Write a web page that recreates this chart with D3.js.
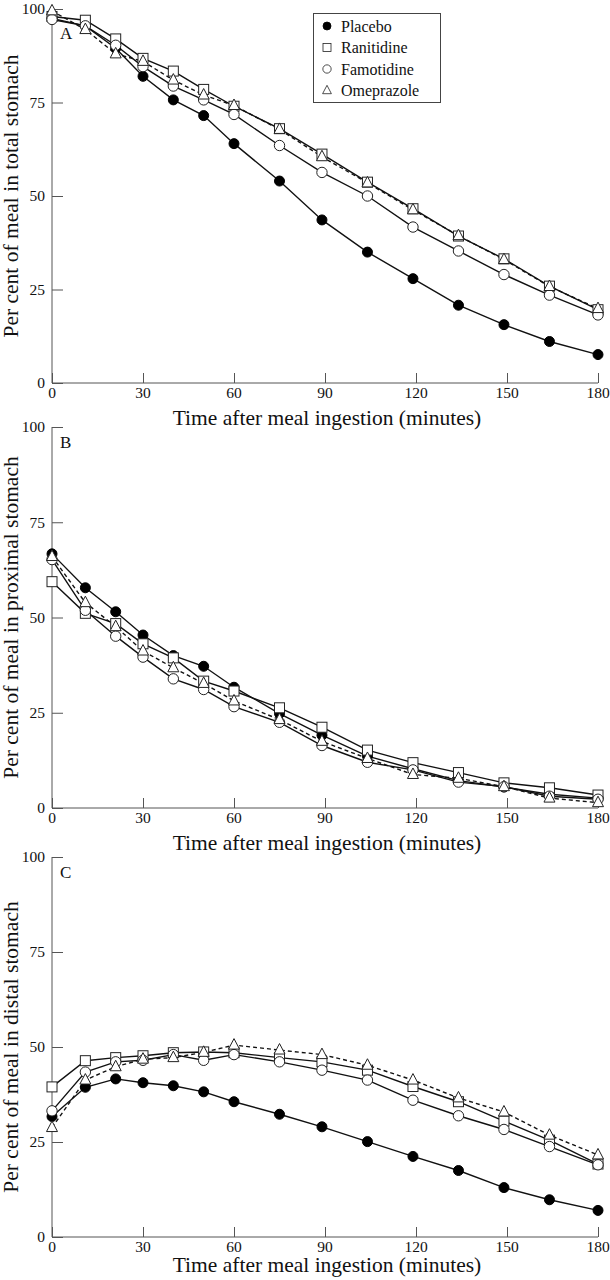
<!DOCTYPE html>
<html>
<head>
<meta charset="utf-8">
<script src="https://cdn.jsdelivr.net/npm/d3@7"></script>
<style>
    body { margin: 0; background: #fff; }
    svg text { font-family: "Liberation Serif", "DejaVu Serif", serif; fill: #111; }
</style>
</head>
<body>
<script>
// time points (minutes)
var times = [0, 11, 21, 30, 40, 50, 60, 75, 89, 104, 119, 134, 149, 164, 180];
var xTicks = [0, 30, 60, 90, 120, 150, 180];
var yTicks = [0, 25, 50, 75, 100];
var seriesNames = ["Placebo", "Ranitidine", "Famotidine", "Omeprazole"];
var panelLetters = ["A", "B", "C"];
var yTitles = ["Per cent of meal in total stomach", "Per cent of meal in proximal stomach", "Per cent of meal in distal stomach"];

// panel A - total stomach
var totalPlacebo = [97.5, 95.5, 89.5, 82, 75.7, 71.5, 64, 54, 43.6, 35, 27.9, 20.8, 15.6, 11.1, 7.6];
var totalRanitidine = [98, 97, 92, 86.8, 83.4, 78.5, 74, 68, 61.2, 53.7, 46.6, 39.3, 33.2, 25.9, 19.6];
var totalFamotidine = [97.2, 95.5, 90.3, 84.6, 79.4, 75.7, 71.8, 63.5, 56.3, 50, 41.7, 35.3, 29, 23.5, 18.2];
var totalOmeprazole = [99.5, 94.5, 88, 86, 81, 77, 74.2, 67.8, 60.5, 53.5, 46.3, 39.4, 33, 25.8, 19.9];

// panel B - proximal stomach
var proxPlacebo = [66.7, 57.8, 51.5, 45.4, 40, 37.2, 31.7, 24.8, 19.1, 13.6, 10.3, 7.2, 5.5, 3.6, 2.6];
var proxRanitidine = [59.4, 51.1, 48.4, 43.1, 39.4, 33.3, 30.7, 26.3, 21.2, 15.2, 11.9, 9.3, 6.6, 5.3, 3.4];
var proxFamotidine = [65.2, 51.9, 45.1, 39.6, 33.9, 31.1, 26.6, 22.5, 16.4, 12, 10, 6.8, 5.6, 3.1, 2.3];
var proxOmeprazole = [66, 53.9, 47.6, 41.2, 36.8, 32.7, 28.1, 23.2, 17.5, 13, 8.8, 7.8, 5.6, 2.6, 1.4];

// panel C - distal stomach
var distPlacebo = [31.7, 39.4, 41.6, 40.6, 39.8, 38.2, 35.6, 32.3, 29, 25.1, 21.2, 17.5, 13, 9.8, 7];
var distRanitidine = [39.5, 46.4, 47.2, 47.7, 48.5, 48.7, 48.5, 47.2, 46.1, 43.9, 39.6, 35.6, 30.5, 25.5, 19.2];
var distFamotidine = [33.2, 43.4, 46.1, 46.5, 48, 46.5, 48, 46.1, 43.9, 41.3, 36, 31.9, 28.3, 23.8, 19];
var distOmeprazole = [28.8, 41.3, 44.8, 46.8, 47.2, 48.6, 50.5, 49.2, 48, 45.2, 41.3, 36.6, 32.9, 26.8, 21.6];

var panels = [
    [totalPlacebo, totalRanitidine, totalFamotidine, totalOmeprazole],
    [proxPlacebo, proxRanitidine, proxFamotidine, proxOmeprazole],
    [distPlacebo, distRanitidine, distFamotidine, distOmeprazole]
];

var svg_width = 610;
var svg_height = 1280;
var left = 52, right = 598;
var panelTops = [9, 427, 857];
var panelHeights = [374, 381, 380];
var titleGap = [42, 42, 35];
var axisColor = "#555";

var svg = d3.select("body")
    .append("svg")
    .attr("width", svg_width)
    .attr("height", svg_height);

var x = d3.scaleLinear().domain([0, 180]).range([left, right]);

// marker drawer
function drawMarker(g, type, cx, cy) {
    if (type === 0) {
        g.append("circle").attr("cx", cx).attr("cy", cy).attr("r", 5)
            .attr("fill", "#000").attr("stroke", "#000");
    } else if (type === 1) {
        g.append("rect").attr("x", cx - 5).attr("y", cy - 5).attr("width", 10).attr("height", 10)
            .attr("fill", "#fff").attr("stroke", "#222").attr("stroke-width", 1);
    } else if (type === 2) {
        g.append("circle").attr("cx", cx).attr("cy", cy).attr("r", 5.2)
            .attr("fill", "#fff").attr("stroke", "#222").attr("stroke-width", 1);
    } else {
        g.append("path")
            .attr("d", "M" + cx + "," + (cy - 6.5) + "L" + (cx + 5.5) + "," + (cy + 4) + "L" + (cx - 5.5) + "," + (cy + 4) + "Z")
            .attr("fill", "#fff").attr("stroke", "#222").attr("stroke-width", 1);
    }
}

panels.forEach(function (series, p) {
    var top = panelTops[p];
    var bottom = top + panelHeights[p];
    var y = d3.scaleLinear().domain([0, 100]).range([bottom, top]);
    var g = svg.append("g");

    // y axis, ticks inward
    var yAxis = g.append("g").attr("transform", "translate(" + left + ",0)")
        .call(d3.axisRight(y).tickValues(yTicks).tickSize(11).tickFormat(""));
    yAxis.select(".domain").attr("stroke", axisColor).attr("d", "M0," + y(100) + "V" + y(0));
    yAxis.selectAll("line").attr("stroke", axisColor);
    g.selectAll(".ylab").data(yTicks).enter().append("text")
        .attr("x", left - 7).attr("y", function (d) { return y(d); })
        .attr("dy", "0.35em").attr("text-anchor", "end")
        .style("font-size", "15.5px").text(function (d) { return d; });

    // x axis, ticks upward
    var xAxis = g.append("g").attr("transform", "translate(0," + bottom + ")")
        .call(d3.axisTop(x).tickValues(xTicks).tickSize(10).tickFormat(""));
    xAxis.select(".domain").attr("stroke", axisColor).attr("d", "M" + left + ",0H" + right);
    xAxis.selectAll("line").attr("stroke", axisColor);
    g.selectAll(".xlab").data(xTicks).enter().append("text")
        .attr("x", function (d) { return x(d); }).attr("y", bottom + 15)
        .attr("text-anchor", "middle")
        .style("font-size", "15.5px").text(function (d) { return d; });

    g.append("text").attr("x", (left + right) / 2 + 2).attr("y", bottom + titleGap[p])
        .attr("text-anchor", "middle").style("font-size", "21.5px")
        .text("Time after meal ingestion (minutes)");

    g.append("text")
        .attr("transform", "translate(18," + ((top + bottom) / 2) + ") rotate(-90)")
        .attr("text-anchor", "middle").style("font-size", "21.5px")
        .text(yTitles[p]);

    g.append("text").attr("x", 60).attr("y", p === 0 ? top + 30 : top + 21)
        .style("font-size", "17px").text(panelLetters[p]);

    var line = d3.line()
        .x(function (d, i) { return x(times[i]); })
        .y(function (d) { return y(d); });

    series.forEach(function (vals, s) {
        g.append("path").datum(vals)
            .attr("d", line)
            .attr("fill", "none")
            .attr("stroke", "#111")
            .attr("stroke-width", 1.4)
            .attr("stroke-dasharray", s === 3 ? "4,3" : null);
    });
    series.forEach(function (vals, s) {
        var mg = g.append("g");
        vals.forEach(function (v, i) {
            drawMarker(mg, s, x(times[i]), y(v));
        });
    });
});

// legend
var lg = svg.append("g");
lg.append("rect").attr("x", 313.5).attr("y", 13.5).attr("width", 127).attr("height", 89)
    .attr("fill", "#fff").attr("stroke", "#444").attr("stroke-width", 1);
seriesNames.forEach(function (name, i) {
    var cy = 26 + i * 21.5;
    var mg = lg.append("g").attr("transform", "translate(" + 327 + "," + cy + ") scale(0.8)");
    drawMarker(mg, i, 0, 0);
    lg.append("text").attr("x", 341).attr("y", cy).attr("dy", "0.35em")
        .style("font-size", "16px").text(name);
});
</script>
</body>
</html>
